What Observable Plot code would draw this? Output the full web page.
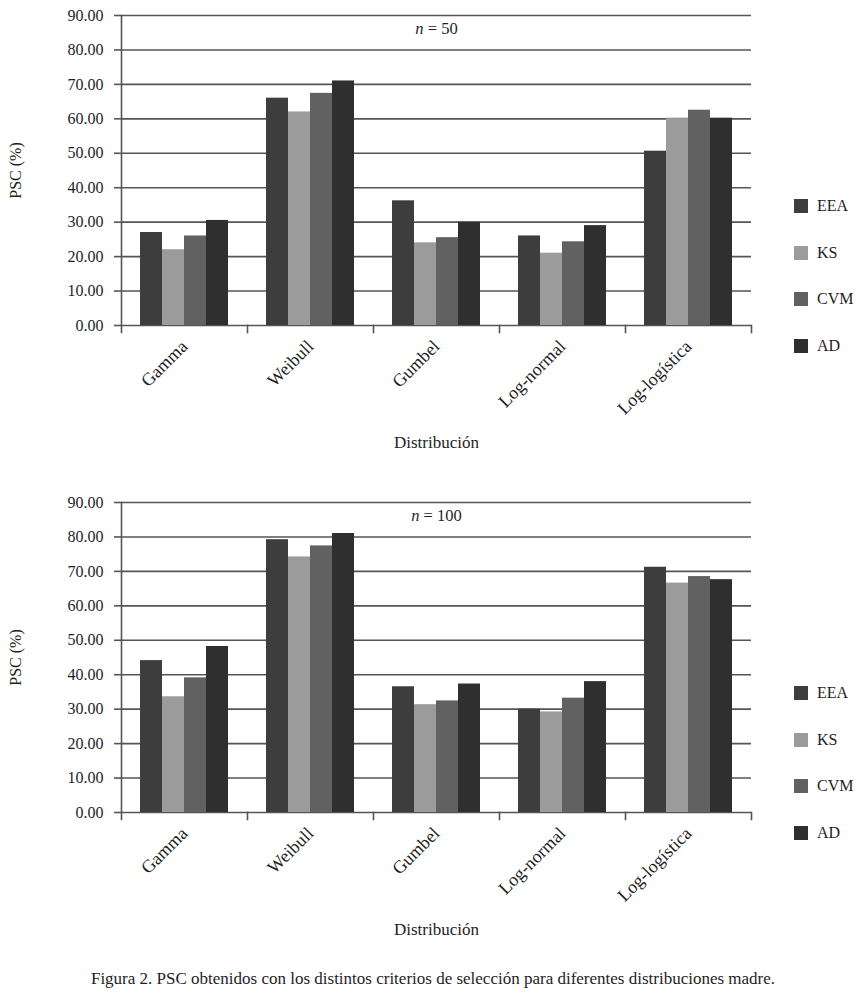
<!DOCTYPE html>
<html>
<head>
<meta charset="utf-8">
<script src="https://cdn.jsdelivr.net/npm/d3@7"></script>
<script src="https://cdn.jsdelivr.net/npm/@observablehq/plot@0.6"></script>
<style>
  html, body { margin: 0; padding: 0; background: #fff; }
  body { width: 866px; font-family: "Liberation Serif", "DejaVu Serif", serif; color: #1e1e1e; }
  .chart { position: relative; width: 866px; height: 487px; }
  .chart svg { display: block; }
  .legend { position: absolute; left: 794px; top: 182.7px; font-family: "Liberation Serif", serif; font-size: 16px; color: #1e1e1e; margin: 0 !important; }
  .caption { position: relative; z-index: 2; text-align: center; font-size: 17px; line-height: 22px; margin-top: -6px; }
</style>
</head>
<body>
<div id="c1" class="chart"></div>
<div id="c2" class="chart"></div>
<div class="caption">Figura 2. PSC obtenidos con los distintos criterios de selección para diferentes distribuciones madre.</div>
<script>
// ---- Data ----
const distributions = ["Gamma", "Weibull", "Gumbel", "Log-normal", "Log-logística"];
const criteria = ["EEA", "KS", "CVM", "AD"];
const criteriaColors = ["#3d3d3d", "#9b9b9b", "#616161", "#2f2f2f"];
const yTicks = [0, 10, 20, 30, 40, 50, 60, 70, 80, 90];

// n = 50 (values per distribution, in the order of `distributions`)
const n50_EEA = [27.0, 66.0, 36.2, 26.0, 50.6];
const n50_KS  = [22.0, 62.0, 24.0, 21.0, 60.2];
const n50_CVM = [26.0, 67.4, 25.5, 24.3, 62.5];
const n50_AD  = [30.5, 71.0, 30.0, 29.0, 60.2];

// n = 100
const n100_EEA = [44.1, 79.2, 36.5, 30.0, 71.2];
const n100_KS  = [33.6, 74.2, 31.3, 29.2, 66.6];
const n100_CVM = [39.1, 77.4, 32.4, 33.2, 68.5];
const n100_AD  = [48.2, 81.0, 37.3, 38.0, 67.6];

const panels = [
  {id: "c1", n: "50", series: [n50_EEA, n50_KS, n50_CVM, n50_AD]},
  {id: "c2", n: "100", series: [n100_EEA, n100_KS, n100_CVM, n100_AD]}
];

const lineColor = "#555";
const W = 866, H = 487, mTop = 15, mBottom = 162, mLeft = 119, mRight = 114;
const innerH = H - mTop - mBottom;

for (const p of panels) {
  const rows = [];
  criteria.forEach((c, j) => distributions.forEach((d, i) => rows.push({dist: d, crit: c, value: p.series[j][i]})));

  const chart = Plot.plot({
    width: W, height: H,
    marginTop: mTop, marginBottom: mBottom, marginLeft: mLeft, marginRight: mRight,
    style: {fontFamily: "Liberation Serif, serif", fontSize: "16px", color: "#1e1e1e", background: "#fff"},
    fx: {domain: distributions, padding: 0},
    x: {domain: criteria, paddingInner: 0, paddingOuter: 0.78, axis: null},
    y: {domain: [0, 90]},
    color: {domain: criteria, range: criteriaColors},
    marks: [
      Plot.ruleY(yTicks, {stroke: lineColor, strokeWidth: 1.6}),
      Plot.barY(rows, {fx: "dist", x: "crit", y: "value", fill: "crit"}),
      Plot.frame({anchor: "left", facetAnchor: "left", insetBottom: -7, stroke: lineColor, strokeWidth: 1.6}),
      Plot.frame({anchor: "right", insetTop: innerH, insetBottom: -7, stroke: lineColor, strokeWidth: 1.6}),
      Plot.axisY({ticks: yTicks, tickFormat: d3.format(".2f"), tickSize: 7, tickPadding: 11, stroke: lineColor, strokeWidth: 1.6,
        label: "PSC (%)", labelAnchor: "center", labelArrow: "none", labelOffset: 112, fontSize: "16px"}),
      Plot.axisFx({anchor: "bottom", tickSize: 0, tickRotate: -45, tickPadding: 18, fontSize: "18px",
        label: "Distribución", labelAnchor: "center", labelOffset: 122}),
      Plot.text([{dist: "Gumbel"}], {fx: "dist", text: () => "n = " + p.n, frameAnchor: "top", dy: 7, fontSize: 16.5})
    ]
  });

  // italic "n"
  d3.select(chart).selectAll("text").each(function() {
    const t = this.textContent;
    if (t === "n = " + p.n) {
      const s = d3.select(this);
      s.text(null);
      s.append("tspan").attr("font-style", "italic").text("n");
      s.append("tspan").text(" = " + p.n);
    }
  });
  // axis label size for the x (facet) title
  d3.select(chart).selectAll("text").filter(function() { return this.textContent === "Distribución"; })
    .style("font-size", "17px");

  const host = document.getElementById(p.id);
  host.appendChild(chart);

  const leg = chart.legend("color", {columns: 1, swatchSize: 14});
  leg.classList.add("legend");
  leg.style.fontSize = "16px";
  leg.style.minHeight = "0";
  leg.querySelectorAll(":scope > div").forEach(el => {
    el.style.height = "46.6px";
    el.style.margin = "0";
    el.style.padding = "0";
    el.style.display = "flex";
    el.style.alignItems = "center";
    el.style.overflow = "visible";
  });
  leg.querySelectorAll(":scope > div > div").forEach(el => { el.style.overflow = "visible"; });
  leg.querySelectorAll("svg").forEach(el => { el.style.marginRight = "9px"; });
  host.appendChild(leg);
}
</script>
</body>
</html>
